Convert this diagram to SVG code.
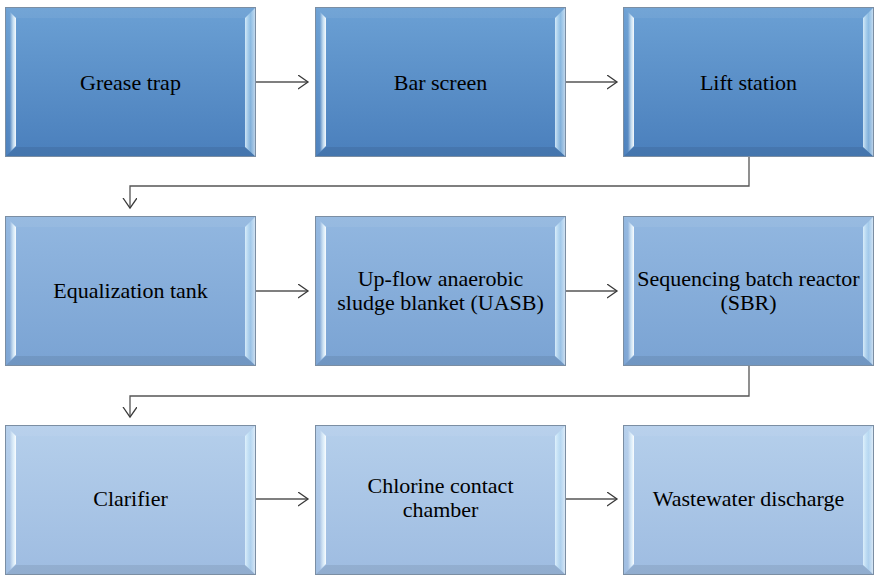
<svg xmlns="http://www.w3.org/2000/svg" width="874" height="576" viewBox="0 0 874 576">
<defs>
<linearGradient id="g1" x1="0" y1="0" x2="0" y2="1"><stop offset="0" stop-color="#6ba0d4"/><stop offset="1" stop-color="#4a7fbc"/></linearGradient>
<linearGradient id="g2" x1="0" y1="0" x2="0" y2="1"><stop offset="0" stop-color="#92b7e0"/><stop offset="1" stop-color="#7aa3d3"/></linearGradient>
<linearGradient id="g3" x1="0" y1="0" x2="0" y2="1"><stop offset="0" stop-color="#b5cfeb"/><stop offset="1" stop-color="#9ebce1"/></linearGradient>
<linearGradient id="hl" x1="0" y1="0" x2="1" y2="0"><stop offset="0" stop-color="#fff" stop-opacity="0"/><stop offset="0.45" stop-color="#fff" stop-opacity="0.05"/><stop offset="0.75" stop-color="#e8f8ff" stop-opacity="0.75"/><stop offset="1" stop-color="#ffffff" stop-opacity="0.95"/></linearGradient>
<linearGradient id="hr" x1="0" y1="0" x2="1" y2="0"><stop offset="0" stop-color="#e6f7ff" stop-opacity="0.85"/><stop offset="0.5" stop-color="#bfe6fb" stop-opacity="0.45"/><stop offset="1" stop-color="#fff" stop-opacity="0.7"/></linearGradient>
<marker id="ah" markerUnits="userSpaceOnUse" markerWidth="12" markerHeight="16" refX="10" refY="7" orient="auto"><path d="M0,0 L10,7 L0,14" fill="none" stroke="#3a3a3a" stroke-width="1.3"/></marker>
<g id="bev">
<polygon points="0,0 11,11 11,139 0,150" fill="url(#hl)"/>
<polygon points="251,0 240,11 240,140 251,150" fill="url(#hr)"/>
<polygon points="0,150 11,140 240,140 251,150" fill="#000" fill-opacity="0.08"/>
<polygon points="0,0 251,0 240,11 11,11" fill="#fff" fill-opacity="0.06"/>
<rect x="0.5" y="0.5" width="250" height="149" fill="none" stroke="#7b8ea3" stroke-width="1"/>
</g>
</defs>
<style>
text{font-family:"Liberation Serif","Times New Roman",serif;font-size:22px;fill:#000;text-anchor:middle}
.c{fill:none;stroke:#555;stroke-width:1.3}
</style>
<g id="connectors">
<line class="c" x1="256" y1="82" x2="308" y2="82" marker-end="url(#ah)"/>
<line class="c" x1="566" y1="82" x2="617" y2="82" marker-end="url(#ah)"/>
<path class="c" d="M749,157 V186 H130 V208" marker-end="url(#ah)"/>
<line class="c" x1="256" y1="291" x2="308" y2="291" marker-end="url(#ah)"/>
<line class="c" x1="566" y1="291" x2="617" y2="291" marker-end="url(#ah)"/>
<path class="c" d="M749,366 V396 H130 V417" marker-end="url(#ah)"/>
<line class="c" x1="256" y1="499" x2="308" y2="499" marker-end="url(#ah)"/>
<line class="c" x1="566" y1="499" x2="617" y2="499" marker-end="url(#ah)"/>
</g>
<g id="grease-trap" transform="translate(5,7)"><rect width="251" height="150" fill="url(#g1)"/><use href="#bev"/><text x="125.5" y="83">Grease trap</text></g>
<g id="bar-screen" transform="translate(315,7)"><rect width="251" height="150" fill="url(#g1)"/><use href="#bev"/><text x="125.5" y="83">Bar screen</text></g>
<g id="lift-station" transform="translate(623,7)"><rect width="251" height="150" fill="url(#g1)"/><use href="#bev"/><text x="125.5" y="83">Lift station</text></g>
<g id="equalization-tank" transform="translate(5,216)"><rect width="251" height="150" fill="url(#g2)"/><use href="#bev"/><text x="125.5" y="82">Equalization tank</text></g>
<g id="uasb" transform="translate(315,216)"><rect width="251" height="150" fill="url(#g2)"/><use href="#bev"/><text x="125.5" y="70">Up-flow anaerobic</text><text x="125.5" y="94">sludge blanket (UASB)</text></g>
<g id="sbr" transform="translate(623,216)"><rect width="251" height="150" fill="url(#g2)"/><use href="#bev"/><text x="125.5" y="70">Sequencing batch reactor</text><text x="125.5" y="94">(SBR)</text></g>
<g id="clarifier" transform="translate(5,425)"><rect width="251" height="150" fill="url(#g3)"/><use href="#bev"/><text x="125.5" y="81">Clarifier</text></g>
<g id="chlorine-contact-chamber" transform="translate(315,425)"><rect width="251" height="150" fill="url(#g3)"/><use href="#bev"/><text x="125.5" y="68">Chlorine contact</text><text x="125.5" y="92">chamber</text></g>
<g id="wastewater-discharge" transform="translate(623,425)"><rect width="251" height="150" fill="url(#g3)"/><use href="#bev"/><text x="125.5" y="81">Wastewater discharge</text></g>
</svg>
